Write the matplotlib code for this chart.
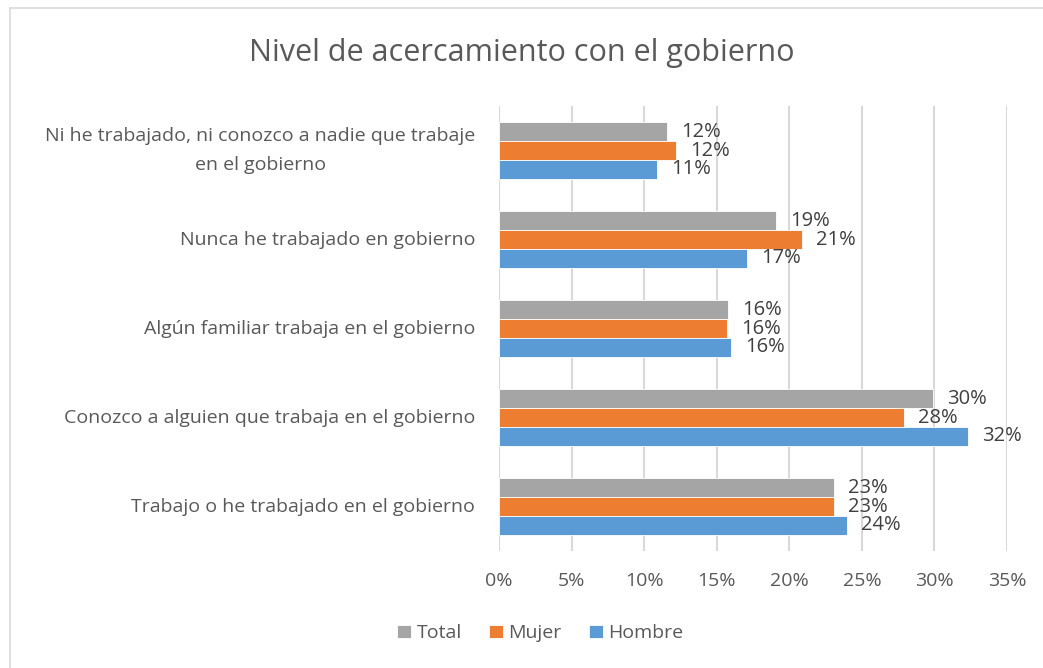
import matplotlib
matplotlib.use("Agg")
import matplotlib.pyplot as plt
from matplotlib.lines import Line2D
from matplotlib.ticker import FuncFormatter
import numpy as np

plt.rcParams['font.family'] = ['Open Sans', 'DejaVu Sans']

categories = ["Ni he trabajado, ni conozco a nadie que trabaje\nen el gobierno",
              "Nunca he trabajado en gobierno",
              "Algún familiar trabaja en el gobierno",
              "Conozco a alguien que trabaja en el gobierno",
              "Trabajo o he trabajado en el gobierno"]
series_names = ["Total", "Mujer", "Hombre"]
total = [0.116, 0.191, 0.158, 0.299, 0.231]
mujer = [0.122, 0.209, 0.157, 0.279, 0.231]
hombre = [0.109, 0.171, 0.160, 0.323, 0.240]
colors = ["#A5A5A5", "#ED7D31", "#5B9BD5"]

fig = plt.figure(figsize=(10.43, 6.68), dpi=100)
ax = fig.add_axes([0.4784, 0.1751, 0.4871, 0.6662])

y = np.arange(len(categories))
h = 0.21
offsets = [-h, 0, h]
for vals, name, col, off in zip([total, mujer, hombre], series_names, colors, offsets):
    bars = ax.barh(y + off, vals, height=h, color=col, edgecolor="white", linewidth=0.6, label=name, zorder=3)
    for b, v in zip(bars, vals):
        ax.annotate("%d%%" % round(v * 100), (v, b.get_y() + b.get_height() / 2),
                    xytext=(10, 0), textcoords="offset points", va="center", ha="left",
                    fontsize=14.5, color="#404040")

ax.set_xlim(0, 0.35)
ax.set_ylim(len(categories) - 0.5, -0.5)
ax.set_xticks(np.arange(0, 0.351, 0.05))
ax.xaxis.set_major_formatter(FuncFormatter(lambda v, p: "%d%%" % round(v * 100)))
ax.set_yticks(y)
ax.set_yticklabels(categories, multialignment="center", linespacing=1.8, va="center")
ax.tick_params(axis="both", length=0, labelsize=14, labelcolor="#595959")
ax.tick_params(axis="x", pad=15)
ax.tick_params(axis="y", pad=17)
ax.grid(axis="x", color="#D9D9D9", linewidth=1.5, zorder=0)
for s in ax.spines.values():
    s.set_visible(False)

fig.text(0.5, 0.92, "Nivel de acercamiento con el gobierno", ha="center", va="center",
         fontsize=22, color="#595959")

leg = ax.legend(loc="center", bbox_to_anchor=(0.518, 0.052), bbox_transform=fig.transFigure,
                ncol=3, frameon=False, fontsize=14, handlelength=0.7, handleheight=0.7,
                handletextpad=0.3, columnspacing=1.4)
for t in leg.get_texts():
    t.set_color("#595959")

fig.add_artist(Line2D([10 / 1043, 10 / 1043], [0, 1 - 8 / 668], transform=fig.transFigure, color="#D9D9D9", linewidth=1.2))
fig.add_artist(Line2D([10 / 1043, 1], [1 - 8 / 668, 1 - 8 / 668], transform=fig.transFigure, color="#D9D9D9", linewidth=1.2))

fig.savefig("out.png", dpi=100)
